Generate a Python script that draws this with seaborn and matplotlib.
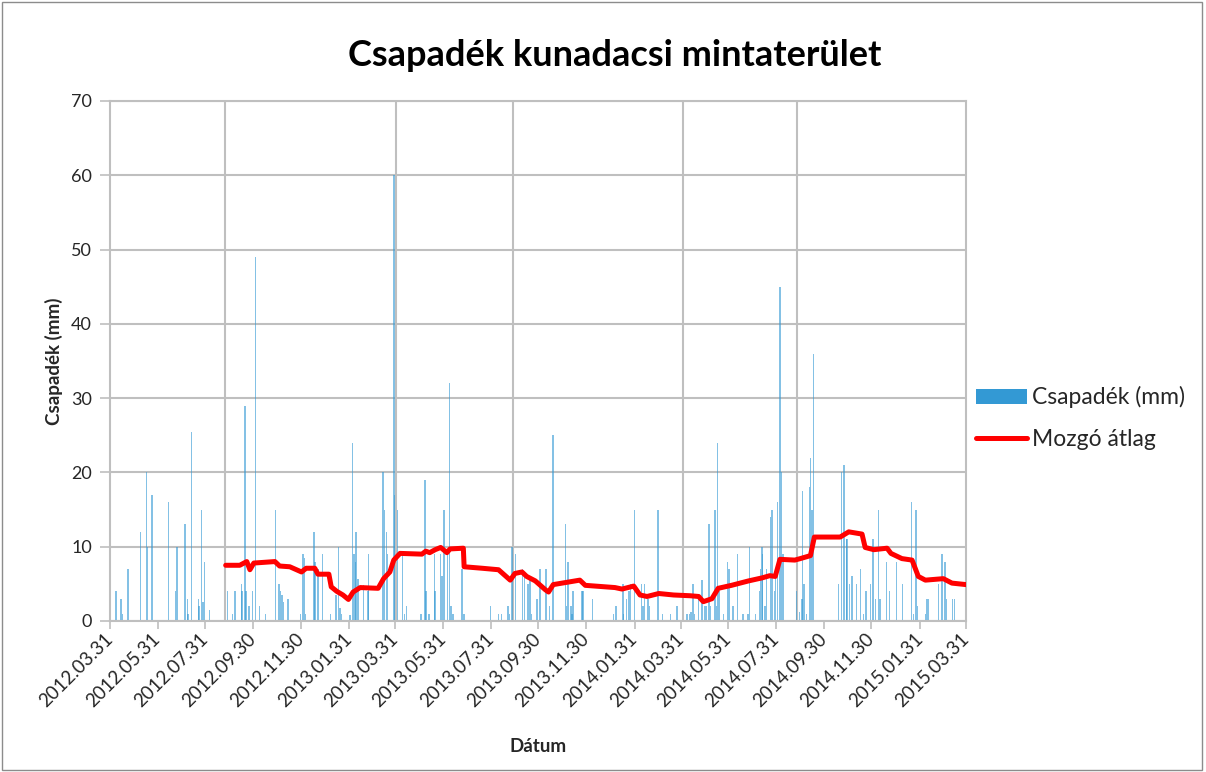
import matplotlib
matplotlib.use("Agg")
import matplotlib.pyplot as plt
import matplotlib.dates as mdates
from matplotlib.patches import Rectangle, Patch
from matplotlib.lines import Line2D
import seaborn as sns
import pandas as pd

# ---------------- data ----------------
rain_dates = [
    "2012-04-08", "2012-04-14", "2012-04-16", "2012-04-23", "2012-05-09", "2012-05-17", "2012-05-18",
    "2012-05-24", "2012-06-14", "2012-06-23", "2012-06-25", "2012-07-05", "2012-07-08", "2012-07-09",
    "2012-07-13", "2012-07-22", "2012-07-23", "2012-07-26", "2012-07-28", "2012-07-30", "2012-08-05",
    "2012-08-28", "2012-09-04", "2012-09-07", "2012-09-15", "2012-09-16", "2012-09-20", "2012-09-21",
    "2012-09-25", "2012-09-29",
    "2012-10-03", "2012-10-08", "2012-10-16", "2012-10-29", "2012-11-02", "2012-11-04", "2012-11-06",
    "2012-11-08", "2012-11-14", "2012-11-30", "2012-12-03", "2012-12-05", "2012-12-06", "2012-12-17",
    "2012-12-18", "2012-12-22", "2012-12-28",
    "2013-01-07", "2013-01-14", "2013-01-17", "2013-01-19", "2013-01-21", "2013-02-01", "2013-02-04",
    "2013-02-06", "2013-02-08", "2013-02-09", "2013-02-11", "2013-02-18", "2013-02-24", "2013-02-25",
    "2013-03-15", "2013-03-17", "2013-03-20", "2013-03-21", "2013-03-29", "2013-03-30", "2013-04-03",
    "2013-04-09", "2013-04-12", "2013-04-14",
    "2013-05-03", "2013-05-08", "2013-05-09", "2013-05-13", "2013-05-20", "2013-05-21", "2013-05-28",
    "2013-05-30", "2013-06-01", "2013-06-06", "2013-06-08", "2013-06-10", "2013-06-13", "2013-06-24",
    "2013-06-27",
    "2013-07-31", "2013-08-10", "2013-08-14", "2013-08-22", "2013-08-24", "2013-08-27", "2013-09-01",
    "2013-09-10", "2013-09-12", "2013-09-17", "2013-09-19", "2013-09-21", "2013-09-28", "2013-10-02",
    "2013-10-10", "2013-10-14", "2013-10-19", "2013-11-04", "2013-11-05", "2013-11-07", "2013-11-11",
    "2013-11-12", "2013-11-13", "2013-11-25", "2013-11-26", "2013-12-08",
    "2014-01-04", "2014-01-07", "2014-01-16", "2014-01-17", "2014-01-21", "2014-01-24", "2014-01-26",
    "2014-01-31", "2014-02-09", "2014-02-11", "2014-02-13", "2014-02-17", "2014-02-19", "2014-03-02",
    "2014-03-08", "2014-03-18", "2014-03-26", "2014-04-08", "2014-04-11",
    "2014-04-13", "2014-04-16", "2014-04-18", "2014-04-23", "2014-04-27", "2014-05-01", "2014-05-03",
    "2014-05-06", "2014-05-08", "2014-05-14", "2014-05-16", "2014-05-17", "2014-05-19", "2014-05-25",
    "2014-05-30", "2014-06-01", "2014-06-06", "2014-06-12", "2014-06-19", "2014-06-25", "2014-06-27",
    "2014-07-05", "2014-07-10", "2014-07-11", "2014-07-13", "2014-07-14", "2014-07-17", "2014-07-19",
    "2014-07-24", "2014-07-26", "2014-07-29", "2014-07-30", "2014-08-02", "2014-08-05", "2014-08-07",
    "2014-08-09",
    "2014-08-26", "2014-08-30", "2014-09-02", "2014-09-03", "2014-09-05", "2014-09-08", "2014-09-12",
    "2014-09-13", "2014-09-15", "2014-09-17",
    "2014-10-19", "2014-10-23", "2014-10-26", "2014-10-29", "2014-10-30", "2014-11-02", "2014-11-05",
    "2014-11-11", "2014-11-16", "2014-11-20", "2014-11-23", "2014-11-29", "2014-12-02", "2014-12-05",
    "2014-12-09", "2014-12-11", "2014-12-19", "2014-12-23",
    "2015-01-01", "2015-01-09", "2015-01-20", "2015-01-23", "2015-01-26", "2015-01-28", "2015-02-07",
    "2015-02-09", "2015-02-11", "2015-02-24", "2015-02-28", "2015-03-04", "2015-03-06", "2015-03-14",
    "2015-03-16", "2015-03-31",
]
rain_mm = [
    4, 3, 1, 7, 12, 20, 10,
    17, 16, 4, 10, 13, 3, 1,
    25.5, 3, 2, 15, 2.5, 8, 1.5,
    4, 1, 4, 5, 4, 29, 4,
    2, 4,
    49, 2, 1, 15, 5, 4, 3.5,
    2.5, 3, 1, 9, 8.5, 1, 12,
    8, 7, 9,
    1, 3.5, 10, 1.7, 1, 0.8, 24,
    9, 8, 12, 5.7, 4.8, 4, 9,
    20, 15, 12, 9, 60, 17, 15,
    9, 1, 2,
    1, 19, 4, 1, 9, 4, 9,
    6, 15, 9, 32, 2, 1, 7,
    1,
    2, 1, 1, 2, 1, 10, 9,
    7, 6, 5, 6, 1, 3, 7,
    7, 2, 25, 13, 2, 8, 2,
    1, 4, 4, 4, 3,
    1, 2, 5, 1, 3, 4, 5,
    15, 5, 2, 5, 3, 2, 15,
    1, 1, 2, 1, 1,
    1.2, 5, 1, 3, 5.5, 2, 2,
    13, 2, 15, 2, 24, 4, 1,
    8, 7, 2, 9, 1, 1, 10,
    1, 4, 7, 10, 9, 2, 7,
    14, 15, 4, 7, 16, 45, 20,
    9,
    4, 1.2, 3, 17.5, 5, 1, 18,
    22, 15, 36,
    5, 20, 21, 11, 11, 5, 6,
    5, 7, 1, 4, 5, 11, 3,
    15, 3, 8, 4,
    8, 5, 16, 1, 15, 2, 1,
    3, 3, 5, 9, 8, 3, 3,
    3, 6,
]

ma_dates = [
    "2012-08-26", "2012-09-13", "2012-09-22", "2012-09-26", "2012-10-01", "2012-10-28", "2012-11-03",
    "2012-11-16", "2012-12-01", "2012-12-07", "2012-12-18", "2012-12-22", "2013-01-05", "2013-01-08",
    "2013-01-15", "2013-01-23", "2013-01-30", "2013-02-05", "2013-02-14", "2013-03-09", "2013-03-16",
    "2013-03-24", "2013-03-29", "2013-04-06", "2013-05-04", "2013-05-09", "2013-05-14", "2013-05-21",
    "2013-05-28", "2013-06-05", "2013-06-09", "2013-06-26", "2013-06-27", "2013-07-20", "2013-08-10",
    "2013-08-25", "2013-08-31", "2013-09-09", "2013-09-15", "2013-09-26", "2013-10-09", "2013-10-13",
    "2013-10-19", "2013-11-05", "2013-11-22", "2013-11-29", "2014-01-06", "2014-01-15", "2014-01-30",
    "2014-02-07", "2014-02-16", "2014-03-03", "2014-03-22", "2014-04-12", "2014-04-23", "2014-04-29",
    "2014-05-10", "2014-05-18", "2014-06-04", "2014-06-26", "2014-07-13", "2014-07-23", "2014-07-30",
    "2014-08-05", "2014-08-24", "2014-08-31", "2014-09-13", "2014-09-18", "2014-10-21", "2014-11-01",
    "2014-11-18", "2014-11-22", "2014-12-03", "2014-12-20", "2014-12-25", "2015-01-08", "2015-01-21",
    "2015-01-25", "2015-01-29", "2015-02-07", "2015-03-02", "2015-03-13", "2015-03-31",
]
ma_values = [
    7.5, 7.5, 8.0, 6.9, 7.8, 8.0, 7.4, 7.3, 6.6, 7.1,
    7.1, 6.3, 6.3, 4.6, 4.0, 3.5, 2.9, 3.9, 4.5, 4.4,
    5.7, 6.6, 8.2, 9.1, 9.0, 9.4, 9.2, 9.6, 9.9, 9.2,
    9.7, 9.8, 7.3, 7.1, 6.9, 5.5, 6.4, 6.6, 6.0, 5.4,
    4.2, 3.9, 4.9, 5.2, 5.5, 4.8, 4.5, 4.3, 4.7, 3.5,
    3.3, 3.7, 3.5, 3.4, 3.3, 2.6, 3.0, 4.4, 4.8, 5.4,
    5.8, 6.1, 6.0, 8.3, 8.2, 8.4, 8.8, 11.3, 11.3, 12.0,
    11.7, 9.9, 9.6, 9.8, 9.1, 8.4, 8.2, 7.1, 6.0, 5.5,
    5.7, 5.1, 4.9,
]

tick_dates = [
    "2012-03-31", "2012-05-31", "2012-07-31", "2012-09-30", "2012-11-30",
    "2013-01-31", "2013-03-31", "2013-05-31", "2013-07-31", "2013-09-30", "2013-11-30",
    "2014-01-31", "2014-03-31", "2014-05-31", "2014-07-31", "2014-09-30", "2014-11-30",
    "2015-01-31", "2015-03-31",
]
vgrid_dates = ["2012-08-25", "2013-04-01", "2013-08-28", "2014-04-03", "2014-08-27"]

title = "Csapadék kunadacsi mintaterület"
bar_label = "Csapadék (mm)"
line_label = "Mozgó átlag"
x_label = "Dátum"
y_label = "Csapadék (mm)"

assert len(rain_dates) == len(rain_mm)
assert len(ma_dates) == len(ma_values)

# ---------------- style ----------------
sns.set_theme(style="white")
plt.rcParams["font.family"] = ["Lato", "DejaVu Sans"]

BAR_C = "#3399D4"
LINE_C = "#FF0000"
GRID_C = "#BFBFBF"
TXT_C = "#262626"

fig = plt.figure(figsize=(12.06, 7.72), dpi=100)
ax = fig.add_axes([0.0912, 0.1956, 0.7098, 0.6736])

rain = pd.DataFrame({"date": pd.to_datetime(rain_dates), "mm": rain_mm})
ma = pd.DataFrame({"date": pd.to_datetime(ma_dates), "avg": ma_values})

ax.bar(rain["date"], rain["mm"], width=1.9, color=BAR_C, alpha=0.6,
       linewidth=0, zorder=2)
sns.lineplot(data=ma, x="date", y="avg", color=LINE_C, linewidth=3.6, ax=ax,
             zorder=3, legend=False)

ax.set_xlim(pd.Timestamp(tick_dates[0]), pd.Timestamp(tick_dates[-1]))
ax.set_ylim(0, 70)
ax.set_yticks(range(0, 71, 10))
ax.yaxis.grid(True, color=GRID_C, linewidth=1.5, zorder=0)
ax.set_axisbelow(True)
for d in vgrid_dates:
    ax.axvline(pd.Timestamp(d), color=GRID_C, linewidth=1.5, zorder=0.5)

for s in ax.spines.values():
    s.set_color(GRID_C)
    s.set_linewidth(1.5)

ax.set_xticks(pd.to_datetime(tick_dates))
ax.xaxis.set_major_formatter(mdates.DateFormatter("%Y.%m.%d"))
ax.tick_params(axis="x", direction="out", length=6, width=1.2, color=GRID_C,
               labelsize=13.5, labelcolor=TXT_C, pad=5, bottom=True)
ax.tick_params(axis="y", direction="out", length=7, width=1.2, color=GRID_C,
               labelsize=13, labelcolor=TXT_C, pad=6, left=True)
for lbl in ax.get_xticklabels():
    lbl.set_rotation(45)
    lbl.set_ha("right")
    lbl.set_va("center")
    lbl.set_rotation_mode("anchor")

ax.set_xlabel(x_label, fontsize=13.5, fontweight="bold", color=TXT_C, labelpad=20)
ax.set_ylabel(y_label, fontsize=13.5, fontweight="bold", color=TXT_C, labelpad=6)

fig.text(0.51, 0.928, title, ha="center", va="center", fontsize=26,
         fontweight="bold", color="black")

handles = [Patch(facecolor=BAR_C, edgecolor="none"),
           Line2D([0], [0], color=LINE_C, linewidth=3.6)]
ax.legend(handles, [bar_label, line_label], loc="center left",
          bbox_to_anchor=(1.012, 0.39), frameon=False, fontsize=16.5,
          handlelength=2.2, handleheight=0.6, handletextpad=0.25, labelspacing=0.9,
          borderpad=0, borderaxespad=0, labelcolor=TXT_C)

fig.add_artist(Rectangle((0.002, 0.002), 0.995, 0.995, transform=fig.transFigure,
                         fill=False, edgecolor="#8C8C8C", linewidth=1))

fig.savefig("out.png", dpi=100)
